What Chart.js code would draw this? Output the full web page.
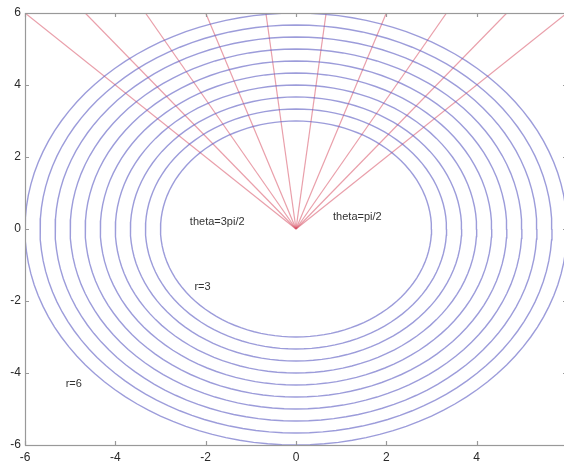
<!DOCTYPE html>
<html>
<head>
<meta charset="utf-8">
<script src="https://cdn.jsdelivr.net/npm/chart.js@4/dist/chart.umd.min.js"></script>
<style>
  html, body { margin: 0; padding: 0; background: #fff; overflow: hidden; }
  #wrap { width: 580px; height: 461px; }
</style>
</head>
<body>
<div id="wrap"><canvas id="polarChart" width="580" height="461"></canvas></div>
<script>
// 반지름 (r=3 ~ r=6)
const radii = [3, 3.333, 3.667, 4, 4.333, 4.667, 5, 5.333, 5.667, 6];
// 광선 끝점 (y=6 에서의 x 값)
const rayEndX = [-6, -4.667, -3.333, -2, -0.667, 0.667, 2, 3.333, 4.667, 6];
const rayEndY = 6;
// 눈금
const xTicks = [-6, -4, -2, 0, 2, 4, 6];
const yTicks = [-6, -4, -2, 0, 2, 4, 6];
// 텍스트 라벨
const noteText = ['theta=3pi/2', 'theta=pi/2', 'r=3', 'r=6'];
const noteX = [-2.35, 0.82, -2.25, -5.1];
const noteY = [0.2, 0.34, -1.6, -4.3];

const datasets = [];

// 원 그리기
radii.forEach(r => {
    const pts = [];
    for (let i = 0; i <= 120; i++) {
        const t = i / 120 * 2 * Math.PI;
        pts.push({ x: r * Math.cos(t), y: r * Math.sin(t) });
    }
    datasets.push({
        data: pts,
        borderColor: 'rgba(95,95,195,0.62)',
        borderWidth: 1.4,
        pointRadius: 0,
        showLine: true,
        fill: false,
        tension: 0
    });
});

// 광선 그리기
rayEndX.forEach(x => {
    datasets.push({
        data: [{ x: 0, y: 0 }, { x: x, y: rayEndY }],
        borderColor: 'rgba(215,80,100,0.55)',
        borderWidth: 1.2,
        pointRadius: 0,
        showLine: true,
        fill: false
    });
});

// 테두리, 안쪽 눈금, 텍스트
const decor = {
    id: 'decor',
    afterDatasetsDraw(chart) {
        const { ctx, chartArea, scales } = chart;
        ctx.save();
        ctx.strokeStyle = '#999';
        ctx.lineWidth = 1.2;
        ctx.strokeRect(chartArea.left + 0.5, chartArea.top + 0.5,
            chartArea.right - chartArea.left, chartArea.bottom - chartArea.top);
        ctx.beginPath();
        xTicks.forEach(v => {
            const px = Math.round(scales.x.getPixelForValue(v)) + 0.5;
            ctx.moveTo(px, chartArea.bottom); ctx.lineTo(px, chartArea.bottom - 4);
            ctx.moveTo(px, chartArea.top); ctx.lineTo(px, chartArea.top + 4);
        });
        yTicks.forEach(v => {
            const py = Math.round(scales.y.getPixelForValue(v)) + 0.5;
            ctx.moveTo(chartArea.left, py); ctx.lineTo(chartArea.left + 4, py);
            ctx.moveTo(chartArea.right, py); ctx.lineTo(chartArea.right - 4, py);
        });
        ctx.stroke();

        ctx.fillStyle = '#333';
        ctx.font = '11px "Liberation Sans", Arial, sans-serif';
        ctx.textBaseline = 'middle';
        ctx.textAlign = 'left';
        noteText.forEach((t, i) => {
            ctx.fillText(t, scales.x.getPixelForValue(noteX[i]), scales.y.getPixelForValue(noteY[i]));
        });
        ctx.restore();
    }
};

const ctx = document.getElementById('polarChart').getContext('2d');
new Chart(ctx, {
    type: 'scatter',
    data: { datasets: datasets },
    options: {
        responsive: false,
        animation: false,
        devicePixelRatio: 1,
        layout: { padding: { left: 0, top: 13, right: 13, bottom: 0 } },
        plugins: { legend: { display: false }, tooltip: { enabled: false } },
        scales: {
            x: {
                type: 'linear', min: -6, max: 6,
                afterFit: s => { s.height = 16; },
                afterBuildTicks: s => { s.ticks = xTicks.map(v => ({ value: v })); },
                grid: { display: false, drawTicks: false },
                border: { display: false },
                ticks: { padding: 5, color: '#2a2a2a', font: { family: '"Liberation Sans", Arial', size: 12 }, maxRotation: 0 }
            },
            y: {
                type: 'linear', min: -6, max: 6,
                afterFit: s => { s.width = 25; },
                afterBuildTicks: s => { s.ticks = yTicks.map(v => ({ value: v })); },
                grid: { display: false, drawTicks: false },
                border: { display: false },
                ticks: { padding: 4, color: '#2a2a2a', font: { family: '"Liberation Sans", Arial', size: 12 } }
            }
        }
    },
    plugins: [decor]
});
</script>
</body>
</html>
